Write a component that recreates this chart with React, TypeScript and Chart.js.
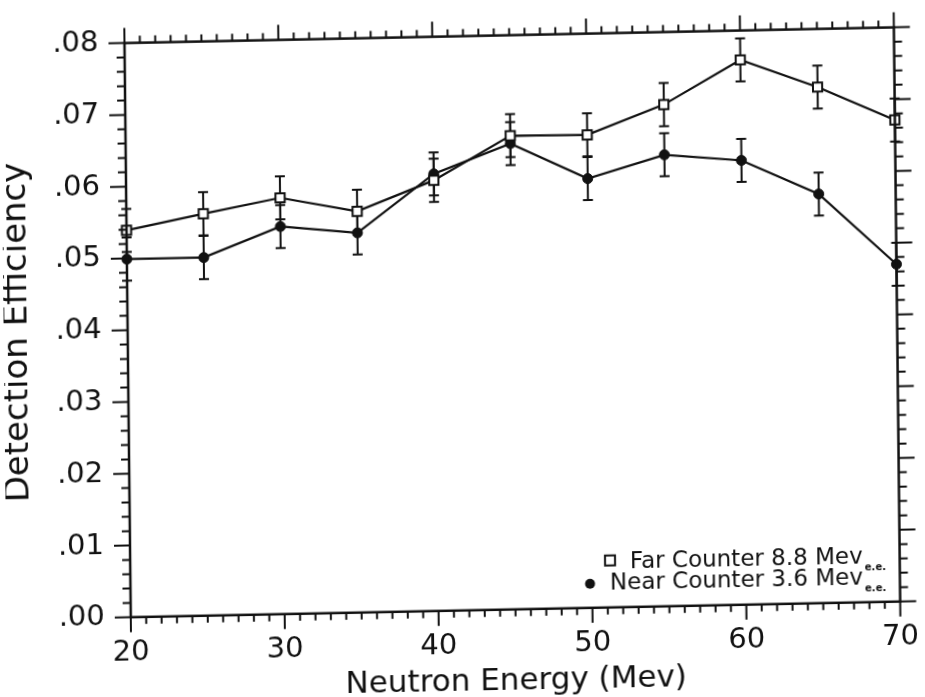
import React, { useEffect, useRef } from 'react';
import { Chart, registerables } from 'chart.js';

Chart.register(...registerables);

// ---- data ----
const energies = [20, 25, 30, 35, 40, 45, 50, 55, 60, 65, 70];
const farEff = [0.0539, 0.0560, 0.0580, 0.0559, 0.0600, 0.0660, 0.0659, 0.0699, 0.0759, 0.0719, 0.0671];
const farErr = [0.003, 0.003, 0.003, 0.003, 0.003, 0.003, 0.003, 0.003, 0.003, 0.003, 0.003];
const nearEff = [0.0499, 0.0499, 0.0540, 0.0529, 0.0609, 0.0649, 0.0598, 0.0629, 0.0619, 0.0570, 0.0470];
const nearErr = [0.003, 0.003, 0.003, 0.003, 0.003, 0.003, 0.003, 0.003, 0.003, 0.003, 0.003];
const yTickLabels = ['.00', '.01', '.02', '.03', '.04', '.05', '.06', '.07', '.08'];
const seriesLabels = ['Far Counter 8.8 Mev', 'Near Counter 3.6 Mev'];
const legendSubscripts = ['e.e.', 'e.e.'];
const xTitle = 'Neutron Energy (Mev)';
const yTitle = 'Detection Efficiency';

const INK = '#111';
const FONT = "'DejaVu Sans', 'Liberation Sans', sans-serif";
const errorsBySeries = [farErr, nearErr];

const framePlugin = {
  id: 'framePlugin',
  beforeDatasetsDraw(chart: any) {
    const { ctx } = chart;
    const xs = chart.scales.x;
    const ys = chart.scales.y;
    ctx.save();
    ctx.strokeStyle = INK;
    ctx.lineWidth = 2;
    chart.data.datasets.forEach((ds: any, di: number) => {
      const errs = errorsBySeries[di];
      ds.data.forEach((p: any, i: number) => {
        const px = xs.getPixelForValue(p.x);
        const y1 = ys.getPixelForValue(p.y + errs[i]);
        const y2 = ys.getPixelForValue(p.y - errs[i]);
        ctx.beginPath();
        ctx.moveTo(px, y1);
        ctx.lineTo(px, y2);
        ctx.moveTo(px - 5, y1);
        ctx.lineTo(px + 5, y1);
        ctx.moveTo(px - 5, y2);
        ctx.lineTo(px + 5, y2);
        ctx.stroke();
      });
    });
    ctx.restore();
  },
  afterDraw(chart: any) {
    const { ctx, chartArea } = chart;
    const { left: L, right: R, top: T, bottom: B } = chartArea;
    const xs = chart.scales.x;
    const ys = chart.scales.y;
    ctx.save();
    ctx.strokeStyle = INK;
    ctx.lineCap = 'butt';
    // frame
    ctx.lineWidth = 2.5;
    ctx.strokeRect(L, T, R - L, B - T);
    // ticks (outward)
    ctx.lineWidth = 2;
    ctx.beginPath();
    for (let v = xs.min; v <= xs.max; v += 1) {
      const px = xs.getPixelForValue(v);
      const len = v % 10 === 0 ? 15 : 7;
      ctx.moveTo(px, B);
      ctx.lineTo(px, B + len);
      ctx.moveTo(px, T);
      ctx.lineTo(px, T - len);
    }
    for (let k = 0; k <= 40; k++) {
      const py = ys.getPixelForValue(k * 0.002);
      const len = k % 5 === 0 ? 16 : 8;
      ctx.moveTo(L, py);
      ctx.lineTo(L - len, py);
      ctx.moveTo(R, py);
      ctx.lineTo(R + len, py);
    }
    ctx.stroke();

    // legend (inside plot, bottom right)
    const textRight = R - 37;
    const baselines = [B - 39, B - 18];
    ctx.fillStyle = INK;
    ctx.textBaseline = 'alphabetic';
    chart.data.datasets.forEach((ds: any, di: number) => {
      const bl = baselines[di];
      ctx.font = `23px ${FONT}`;
      ctx.textAlign = 'right';
      const label = seriesLabels[di];
      ctx.fillText(label, textRight, bl);
      const w = ctx.measureText(label).width;
      const start = textRight - w;
      // subscript
      ctx.font = `bold 10px ${FONT}`;
      ctx.textAlign = 'left';
      ctx.fillText(legendSubscripts[di], textRight + 2, bl + 7);
      // marker
      if (di === 0) {
        ctx.lineWidth = 2;
        ctx.fillStyle = '#fff';
        ctx.fillRect(start - 25, bl - 13, 10, 10);
        ctx.strokeRect(start - 25, bl - 13, 10, 10);
        ctx.fillStyle = INK;
      } else {
        ctx.beginPath();
        ctx.arc(start - 20, bl - 6, 5, 0, Math.PI * 2);
        ctx.fill();
      }
    });
    ctx.restore();
  },
};

export default function App() {
  const canvasRef = useRef<HTMLCanvasElement | null>(null);

  useEffect(() => {
    const canvas = canvasRef.current;
    if (!canvas) return;
    Chart.defaults.color = INK;
    const chart = new Chart(canvas, {
      type: 'line',
      data: {
        datasets: [
          {
            label: seriesLabels[0],
            data: energies.map((e, i) => ({ x: e, y: farEff[i] })),
            borderColor: INK,
            borderWidth: 2.2,
            pointStyle: 'rect',
            pointRadius: 6.5,
            pointBorderWidth: 2,
            pointBorderColor: INK,
            pointBackgroundColor: '#fff',
            tension: 0,
            clip: false,
          },
          {
            label: seriesLabels[1],
            data: energies.map((e, i) => ({ x: e, y: nearEff[i] })),
            borderColor: INK,
            borderWidth: 2.2,
            pointStyle: 'circle',
            pointRadius: 5,
            pointBorderWidth: 1,
            pointBorderColor: INK,
            pointBackgroundColor: INK,
            tension: 0,
            clip: false,
          },
        ],
      },
      options: {
        responsive: false,
        animation: false,
        events: [],
        layout: { padding: { left: 0, right: 31, top: 45.6, bottom: 0 } },
        plugins: {
          legend: { display: false },
          tooltip: { enabled: false },
        },
        scales: {
          x: {
            type: 'linear',
            min: 20,
            max: 70,
            grid: { display: false, drawTicks: false },
            border: { display: false },
            ticks: {
              stepSize: 10,
              color: INK,
              padding: 18,
              font: { family: FONT, size: 29 },
              maxRotation: 0,
              autoSkip: false,
            },
            title: {
              display: true,
              text: xTitle,
              color: INK,
              font: { family: FONT, size: 31 },
              padding: { top: 0, bottom: 9 },
            },
            afterFit: (scale: any) => {
              scale.height = 100.2;
            },
          },
          y: {
            type: 'linear',
            min: 0,
            max: 0.08,
            grid: { display: false, drawTicks: false },
            border: { display: false },
            ticks: {
              stepSize: 0.01,
              color: INK,
              padding: 26,
              font: { family: FONT, size: 29 },
              callback: (value: any) => yTickLabels[Math.round(Number(value) * 100)] ?? '',
            },
            title: {
              display: true,
              text: yTitle,
              color: INK,
              font: { family: FONT, size: 34, lineHeight: 0.82 },
              padding: { top: 0, bottom: 0 },
            },
            afterFit: (scale: any) => {
              scale.width = 124;
            },
          },
        },
      },
      plugins: [framePlugin],
    } as any);
    return () => chart.destroy();
  }, []);

  return (
    <div
      style={{
        position: 'fixed',
        left: 0,
        top: 0,
        width: 925,
        height: 697,
        overflow: 'hidden',
        background: '#fff',
      }}
    >
      <div
        style={{
          width: 930,
          height: 720,
          transform: 'matrix(1, -0.0204, 0.011, 1, 0, 0)',
          transformOrigin: '0 0',
        }}
      >
        <canvas ref={canvasRef} width={930} height={720} style={{ display: 'block' }} />
      </div>
    </div>
  );
}
